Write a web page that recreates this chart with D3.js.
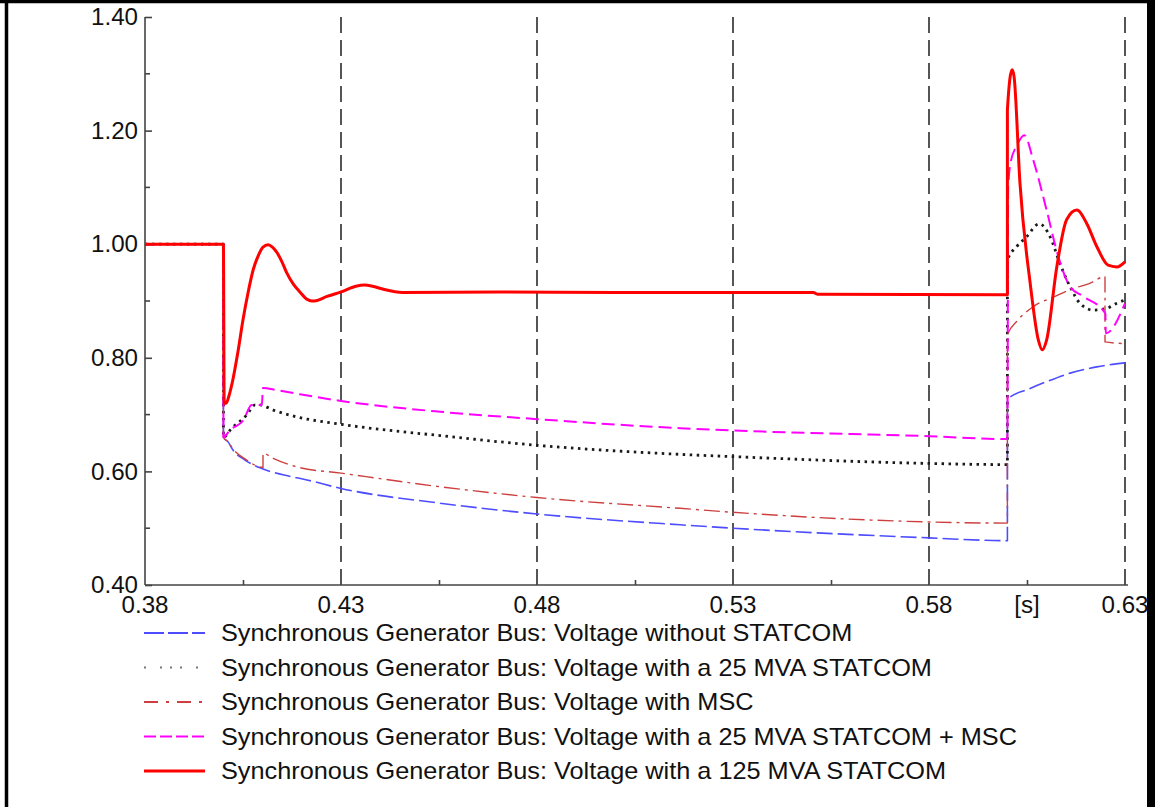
<!DOCTYPE html>
<html>
<head>
<meta charset="utf-8">
<script src="https://cdn.jsdelivr.net/npm/d3@7/dist/d3.min.js"></script>
<style>
  html, body { margin: 0; padding: 0; background: #fff; }
  svg { display: block; font-family: "Liberation Sans", Arial, sans-serif; }
</style>
</head>
<body>
<svg id="chart" width="1155" height="807"></svg>
<script>
// Time axis [s] and tick labels
const xDomain = [0.38, 0.63];
const yDomain = [0.40, 1.40];
const xMajorTicks = [0.38, 0.43, 0.48, 0.53, 0.58, 0.63];
const xMinorTicks = [0.405, 0.455, 0.505, 0.555, 0.605];
const xGridTicks = [0.43, 0.48, 0.53, 0.58, 0.63];
const yMajorTicks = [0.40, 0.60, 0.80, 1.00, 1.20, 1.40];
const yMinorTicks = [0.50, 0.70, 0.90, 1.10, 1.30];
const xUnitLabel = "[s]";
const xUnitPos = 0.605;

// Voltage without STATCOM
const tBlue = [0.38, 0.4, 0.4, 0.4012, 0.4024, 0.4055, 0.4098, 0.4152, 0.4213, 0.43, 0.4553, 0.48, 0.5165, 0.53, 0.58, 0.6, 0.6, 0.6058, 0.61, 0.616, 0.6228, 0.63];
const vBlue = [1.0, 1.0, 0.66, 0.652, 0.638, 0.620, 0.605, 0.594, 0.585, 0.570, 0.544, 0.525, 0.506, 0.500, 0.483, 0.478, 0.727, 0.746, 0.758, 0.773, 0.784, 0.791];

// Voltage with a 25 MVA STATCOM
const tBlack = [0.38, 0.4, 0.4, 0.4021, 0.4042, 0.4059, 0.4081, 0.4093, 0.4127, 0.4187, 0.43, 0.4553, 0.48, 0.5165, 0.53, 0.58, 0.6, 0.6, 0.6024, 0.6049, 0.6081, 0.6109, 0.6134, 0.616, 0.6185, 0.6219, 0.6253, 0.6279, 0.63];
const vBlack = [1.0, 1.0, 0.66, 0.676, 0.688, 0.699, 0.717, 0.717, 0.708, 0.696, 0.683, 0.663, 0.646, 0.630, 0.626, 0.614, 0.612, 0.972, 0.996, 1.013, 1.036, 1.013, 0.966, 0.925, 0.896, 0.884, 0.887, 0.896, 0.902];

// Voltage with MSC
const tBrown = [0.38, 0.4, 0.4, 0.4012, 0.4024, 0.4055, 0.4101, 0.4101, 0.4127, 0.4187, 0.43, 0.4553, 0.48, 0.5165, 0.53, 0.58, 0.6, 0.6, 0.6025, 0.6066, 0.6121, 0.6168, 0.621, 0.6249, 0.6249, 0.63];
const vBrown = [1.0, 1.0, 0.66, 0.652, 0.640, 0.622, 0.607, 0.632, 0.623, 0.608, 0.597, 0.573, 0.554, 0.535, 0.528, 0.511, 0.509, 0.840, 0.865, 0.890, 0.908, 0.922, 0.931, 0.943, 0.828, 0.825];

// Voltage with a 25 MVA STATCOM + MSC
const tMagenta = [0.38, 0.4, 0.4, 0.4017, 0.4051, 0.4072, 0.4098, 0.4101, 0.4136, 0.43, 0.4553, 0.48, 0.5165, 0.53, 0.58, 0.6, 0.6002, 0.6008, 0.6025, 0.6043, 0.6066, 0.61, 0.613, 0.616, 0.6194, 0.625, 0.6251, 0.63];
const vMagenta = [1.0, 1.0, 0.66, 0.673, 0.690, 0.717, 0.717, 0.747, 0.743, 0.724, 0.705, 0.692, 0.676, 0.672, 0.662, 0.657, 1.10, 1.143, 1.175, 1.192, 1.148, 1.060, 0.978, 0.925, 0.908, 0.878, 0.843, 0.896];

// Voltage with a 125 MVA STATCOM
const tRed = [0.38, 0.4, 0.4002, 0.4007, 0.4015, 0.4024, 0.4037, 0.405, 0.4063, 0.4076, 0.4089, 0.4101, 0.4114, 0.4125, 0.4137, 0.415, 0.4162, 0.4178, 0.4195, 0.4213, 0.4226, 0.4239, 0.4264, 0.43, 0.4338, 0.436, 0.438, 0.4406, 0.4457, 0.47, 0.5, 0.5505, 0.5515, 0.6, 0.6, 0.6012, 0.6017, 0.6032, 0.6058, 0.6079, 0.6089, 0.61, 0.6126, 0.6151, 0.6177, 0.6202, 0.6228, 0.6257, 0.6279, 0.63];
const vRed = [1.0, 1.0, 0.72, 0.72, 0.735, 0.761, 0.81, 0.867, 0.915, 0.955, 0.980, 0.995, 0.999, 0.995, 0.985, 0.968, 0.949, 0.930, 0.916, 0.903, 0.900, 0.901, 0.908, 0.916, 0.926, 0.928, 0.926, 0.921, 0.915, 0.916, 0.915, 0.915, 0.912, 0.911, 1.236, 1.307, 1.295, 1.108, 0.932, 0.831, 0.814, 0.831, 0.960, 1.043, 1.060, 1.037, 0.996, 0.963, 0.960, 0.969];

const legendLabels = [
  "Synchronous Generator Bus: Voltage without STATCOM",
  "Synchronous Generator Bus: Voltage with a 25 MVA STATCOM",
  "Synchronous Generator Bus: Voltage with MSC",
  "Synchronous Generator Bus: Voltage with a 25 MVA STATCOM + MSC",
  "Synchronous Generator Bus: Voltage with a 125 MVA STATCOM"
];

const seriesStyles = [
  { t: tBlue,    v: vBlue,    color: "#4d4dff", width: 1.6, dash: "16,5",        legendDash: "20,4" },
  { t: tBlack,   v: vBlack,   color: "#1a1a1a", width: 2.8, dash: "2.5,4.5",     legendDash: "2,14,2,8,2,8" },
  { t: tBrown,   v: vBrown,   color: "#cc4040", width: 1.4, dash: "16,5,3,5",    legendDash: "14,8,3,8" },
  { t: tMagenta, v: vMagenta, color: "#ff00ff", width: 2.0, dash: "13,6",        legendDash: "12,4" },
  { t: tRed,     v: vRed,     color: "#ff0000", width: 3.0, dash: null,          legendDash: null }
];

const svg = d3.select("#chart");
const W = 1155, H = 807;
const plot = { left: 145, right: 1125, top: 17, bottom: 585 };
const tickFont = 23, tickStretch = 1.05;
const legendFont = 23, legendStretch = 1.1;

const x = d3.scaleLinear().domain(xDomain).range([plot.left, plot.right]);
const y = d3.scaleLinear().domain(yDomain).range([plot.bottom, plot.top]);

// outer frame
svg.append("rect").attr("x", 0).attr("y", 0).attr("width", W).attr("height", H).attr("fill", "#fff");
svg.append("line").attr("x1", 6.5).attr("x2", 6.5).attr("y1", 0).attr("y2", H).attr("stroke", "#000").attr("stroke-width", 3.5);
svg.append("line").attr("x1", 0).attr("x2", W).attr("y1", 1.5).attr("y2", 1.5).attr("stroke", "#000").attr("stroke-width", 3.5);
svg.append("rect").attr("x", 1147).attr("y", 0).attr("width", 8).attr("height", H).attr("fill", "#000");

// vertical dashed grid
svg.append("g").selectAll("line").data(xGridTicks).join("line")
  .attr("x1", d => x(d)).attr("x2", d => x(d))
  .attr("y1", plot.top).attr("y2", plot.bottom)
  .attr("stroke", "#555").attr("stroke-width", 2)
  .attr("stroke-dasharray", "16,7");

// horizontally stretched text helper
function stretchedText(g, tx, ty, str, anchor, size, stretch) {
  return g.append("text")
    .attr("transform", `translate(${tx},${ty}) scale(${stretch},1)`)
    .attr("dy", "0.36em").attr("text-anchor", anchor)
    .attr("font-size", size).attr("fill", "#111")
    .text(str);
}

// y axis
const yAxis = d3.axisRight(y).tickValues(yMajorTicks).tickSize(7).tickFormat("");
const gy = svg.append("g").attr("transform", `translate(${plot.left},0)`).call(yAxis);
gy.select(".domain").attr("stroke", "#444").attr("stroke-width", 1.6).attr("d", `M0,${plot.top}V${plot.bottom}`);
gy.selectAll(".tick line").attr("stroke", "#444").attr("stroke-width", 1.6);
svg.append("g").selectAll("line").data(yMinorTicks).join("line")
  .attr("x1", plot.left).attr("x2", plot.left + 5)
  .attr("y1", d => y(d)).attr("y2", d => y(d))
  .attr("stroke", "#444").attr("stroke-width", 1.6);
const gyl = svg.append("g");
yMajorTicks.forEach(d => stretchedText(gyl, plot.left - 7, y(d), d3.format(".2f")(d), "end", tickFont, tickStretch));

// x axis
const xAxis = d3.axisTop(x).tickValues(xMinorTicks).tickSize(5).tickFormat("");
const gx = svg.append("g").attr("transform", `translate(0,${plot.bottom})`).call(xAxis);
gx.select(".domain").attr("stroke", "#444").attr("stroke-width", 1.6).attr("d", `M${plot.left},0H${plot.right + 3}`);
gx.selectAll(".tick line").attr("stroke", "#444").attr("stroke-width", 1.6);
const gxl = svg.append("g");
xMajorTicks.forEach(d => stretchedText(gxl, x(d), plot.bottom + 20, d3.format(".2f")(d), "middle", tickFont, tickStretch));
stretchedText(gxl, x(xUnitPos), plot.bottom + 20, xUnitLabel, "middle", tickFont, tickStretch);

// series
const line = d3.line().x(d => x(d[0])).y(d => y(d[1])).curve(d3.curveMonotoneX);
const gs = svg.append("g");
seriesStyles.forEach(s => {
  const pts = s.t.map((t, i) => [t, s.v[i]]);
  gs.append("path").datum(pts)
    .attr("d", line)
    .attr("fill", "none")
    .attr("stroke", s.color)
    .attr("stroke-width", s.width)
    .attr("stroke-linejoin", "round")
    .attr("stroke-dasharray", s.dash);
});

// legend
const legendTop = 633, legendStep = 34.5;
const lg = svg.append("g");
legendLabels.forEach((label, i) => {
  const s = seriesStyles[i];
  const yy = legendTop + i * legendStep;
  lg.append("line")
    .attr("x1", 144).attr("x2", 205).attr("y1", yy).attr("y2", yy)
    .attr("stroke", i === 1 ? "#777" : s.color)
    .attr("stroke-width", i === 1 ? 2.2 : Math.max(s.width, 1.8))
    .attr("stroke-dasharray", s.legendDash);
  stretchedText(lg, 221, yy, label, "start", legendFont, legendStretch);
});
</script>
</body>
</html>
